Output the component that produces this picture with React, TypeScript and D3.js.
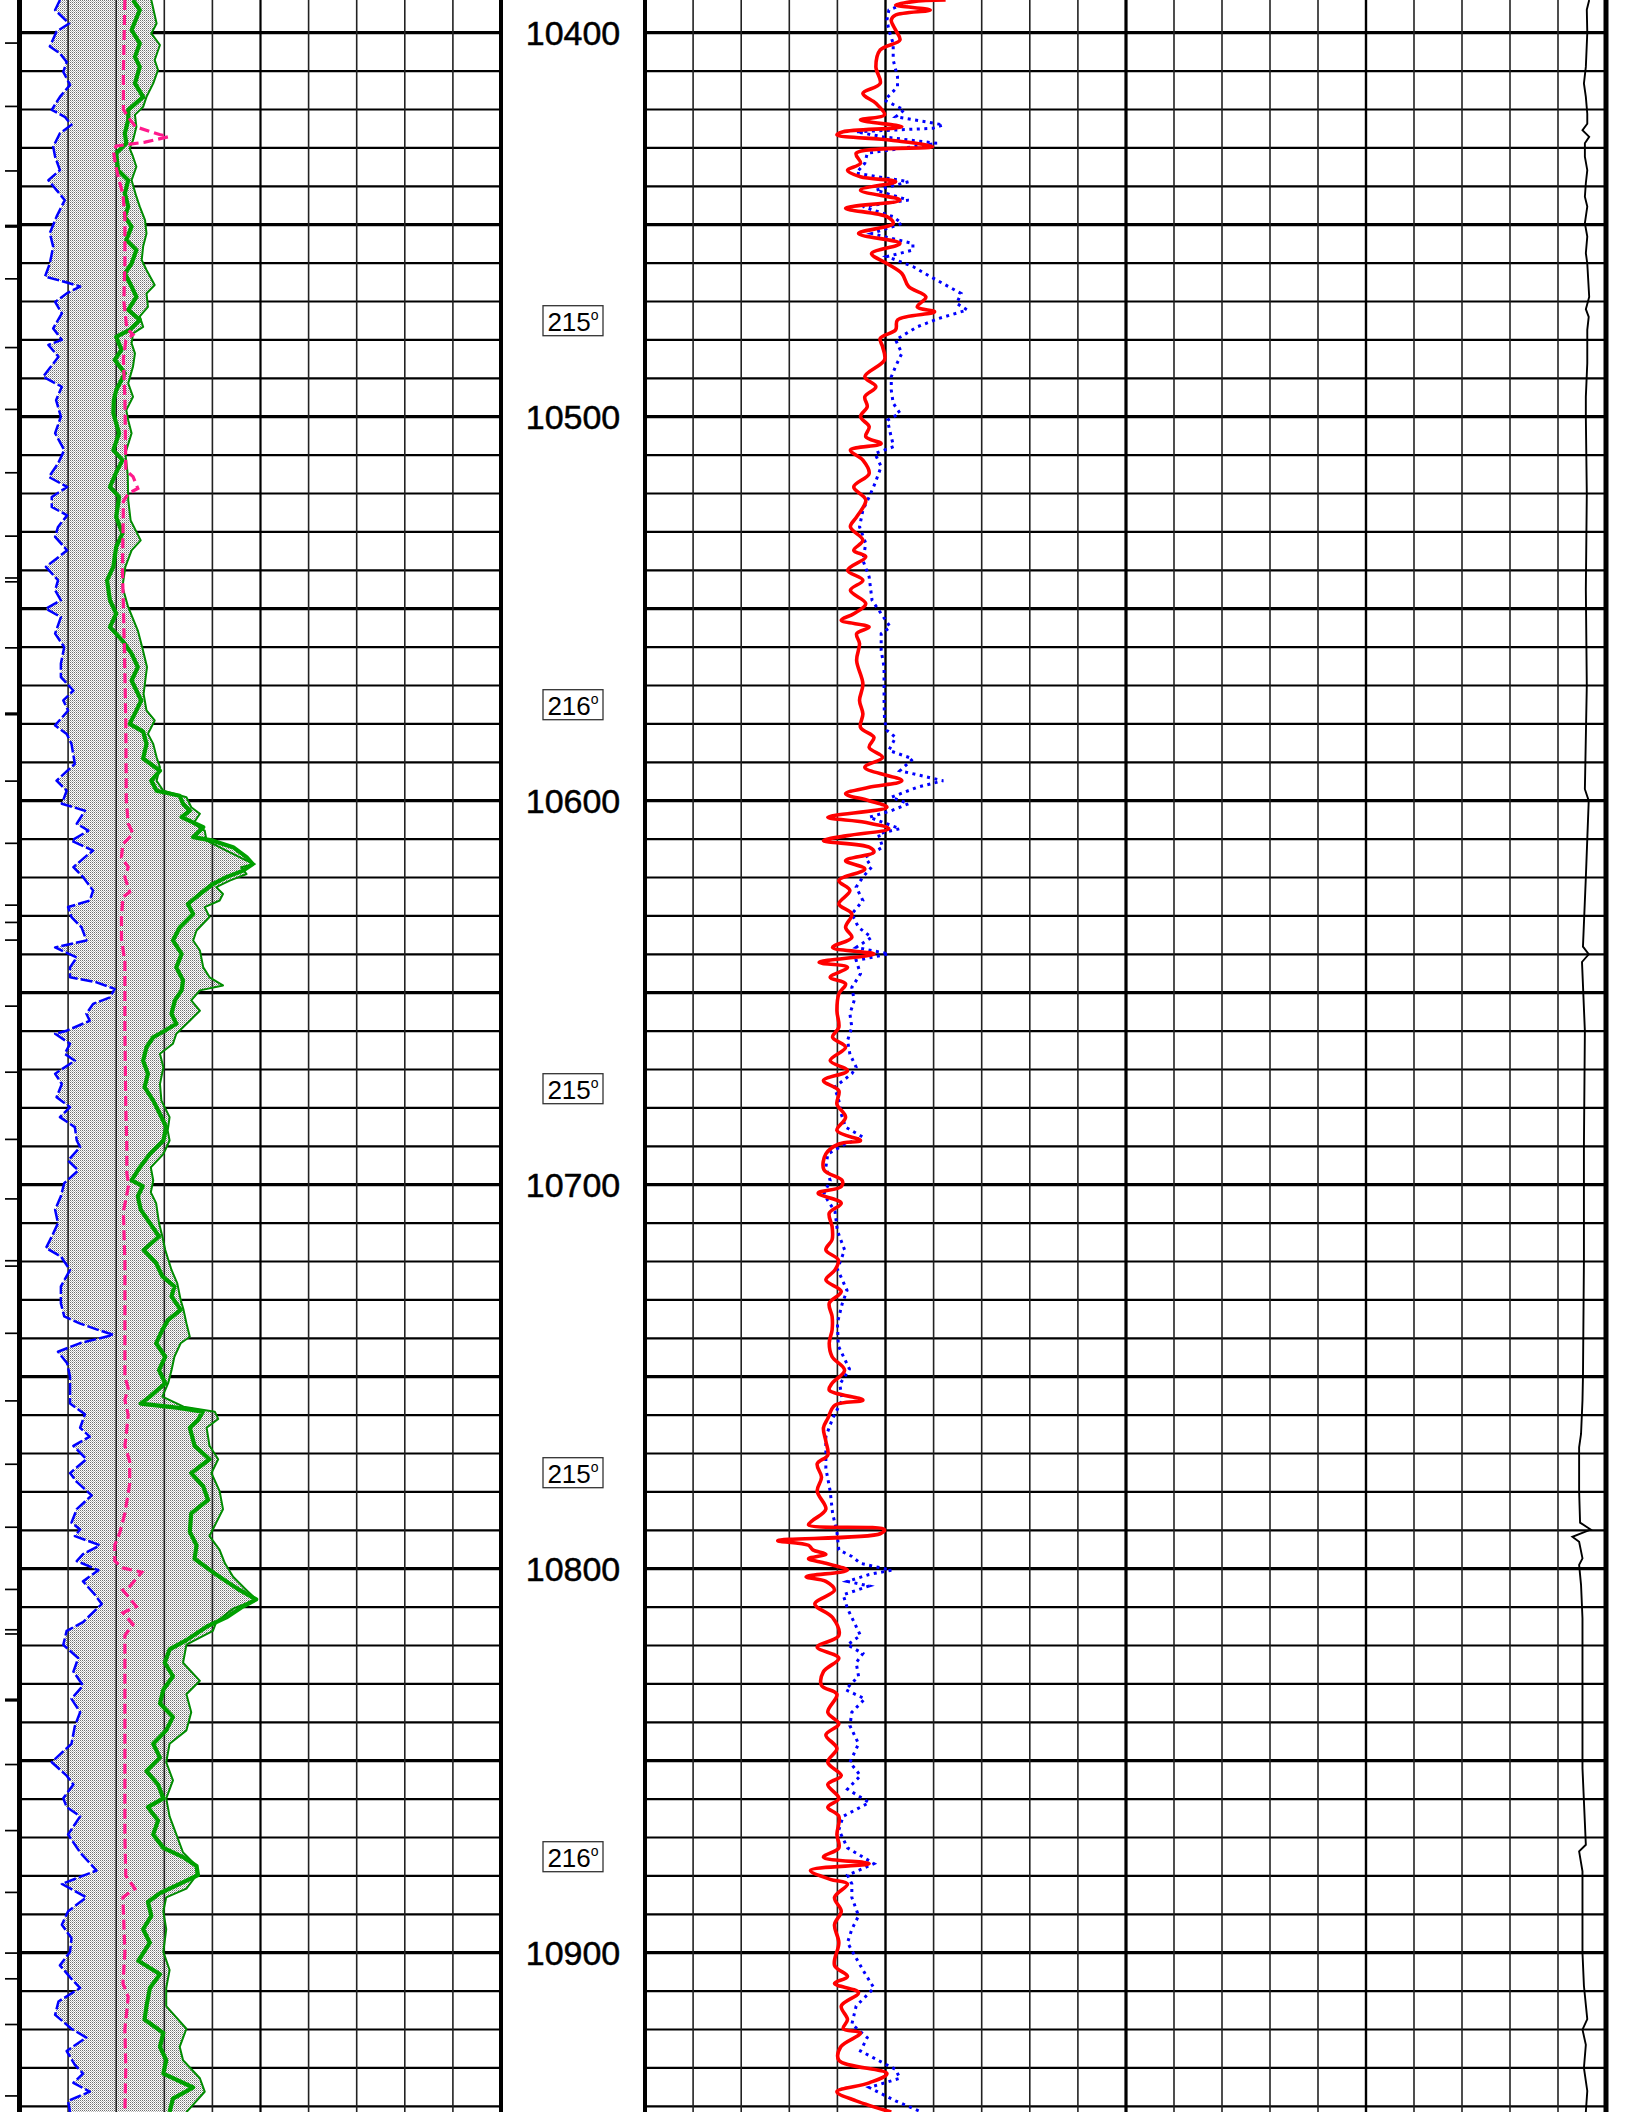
import React from 'react';
import * as d3 from 'd3';

type Pt = [number, number];

const W = 1632;
const H = 2112;

const depthLabels = [10400, 10500, 10600, 10700, 10800, 10900];
const azimuthDepths = [10475, 10575, 10675, 10775, 10875];
const azimuthValues = ['215', '216', '215', '215', '216'];
const markerDepths = [10402.7, 10419.2, 10436.0, 10450.4, 10464.1, 10482.0, 10498.1, 10514.6, 10531.1, 10542.0, 10543.0, 10560.2, 10577.4, 10594.9, 10611.1, 10627.2, 10631.7, 10636.3, 10653.5, 10670.7, 10688.2, 10703.7, 10719.8, 10721.2, 10738.7, 10756.3, 10772.8, 10789.2, 10805.4, 10815.9, 10817.0, 10834.2, 10851.0, 10868.2, 10884.3, 10900.1, 10906.8, 10918.7, 10937.3];
const heavyMarkers = [10450.4, 10577.4, 10834.2];

// Track 1 (values in chart divisions 0..10)
const blueTrack1: Pt[] = [[10391.5,0.83],[10394.1,0.73],[10397.6,1.02],[10399.7,0.76],[10403.6,0.62],[10405.4,0.83],[10407.6,0.97],[10410.2,0.9],[10413.6,1.04],[10416.7,0.83],[10420.1,0.66],[10421.9,0.93],[10424,1.07],[10426.2,0.83],[10429.7,0.69],[10432.3,0.73],[10435.8,0.83],[10438.4,0.59],[10441,0.76],[10443.6,0.93],[10447.9,0.76],[10452.2,0.62],[10455.7,0.69],[10460.1,0.62],[10463.5,0.52],[10464.8,0.9],[10466.1,1.25],[10467.9,0.97],[10470.1,0.73],[10473.1,0.87],[10477,0.69],[10480,0.87],[10481.3,0.59],[10484.4,0.8],[10489.6,0.48],[10492.2,0.87],[10495.7,0.75],[10500,0.85],[10504.3,0.73],[10508.7,0.92],[10512.2,0.79],[10515.7,0.6],[10518.3,0.98],[10520.9,0.66],[10523.5,0.66],[10525.7,0.98],[10528.7,0.79],[10531.3,0.73],[10534.8,0.98],[10539.1,0.54],[10542.6,0.79],[10545.2,0.73],[10547.8,0.85],[10550,0.54],[10552.2,0.85],[10556.5,0.73],[10560,0.92],[10564.3,0.85],[10567.8,0.85],[10571.3,1.11],[10573.9,0.9],[10576.5,1.0],[10580.4,0.73],[10582.6,0.97],[10585.2,1.07],[10590.4,1.14],[10594.8,0.76],[10597.4,0.97],[10600.8,0.87],[10602.6,1.35],[10606,1.18],[10607.8,1.42],[10610.4,1.07],[10613,1.52],[10614.7,1.35],[10617.3,1.11],[10619.9,1.31],[10623.4,1.52],[10626,1.45],[10627.7,1.0],[10630.3,1.07],[10633,1.28],[10636.4,1.38],[10638.2,0.73],[10640.8,1.18],[10643.4,1.04],[10646,1.04],[10647.3,1.59],[10649,1.97],[10651.2,1.87],[10652.9,1.52],[10655.5,1.38],[10657.3,1.45],[10659.9,0.97],[10660.7,0.73],[10663.3,1.04],[10665.9,0.93],[10667.7,1.14],[10671.1,0.73],[10673.8,0.87],[10677.2,0.76],[10679.8,1.04],[10682.4,0.83],[10685,1.14],[10688.5,1.18],[10690.2,1.25],[10693.7,1.0],[10696.3,1.21],[10699.6,0.92],[10703,0.85],[10706.5,0.73],[10710,0.79],[10713.5,0.66],[10716.5,0.54],[10718.7,0.85],[10722.2,1.04],[10726.5,0.85],[10730.9,0.85],[10734.3,0.92],[10736.1,1.24],[10737.8,1.62],[10739.1,1.94],[10741.3,1.24],[10743.5,0.79],[10746.5,0.98],[10750,1.04],[10753.5,1.04],[10757,1.04],[10759.8,1.35],[10763.3,1.25],[10765.6,1.45],[10768,1.11],[10771.5,1.38],[10775.1,1.04],[10777.4,1.18],[10780.9,1.49],[10784.5,1.18],[10788,1.07],[10789.8,1.25],[10791.5,1.14],[10793.9,1.66],[10796.2,1.31],[10798,1.18],[10800.4,1.63],[10803.3,1.31],[10806.8,1.56],[10809.2,1.7],[10813.9,1.31],[10816.2,0.97],[10819.8,0.9],[10823.3,1.21],[10826.8,1.11],[10830.4,1.31],[10833.9,1.07],[10837.4,1.25],[10841,1.14],[10845.6,1.07],[10849.2,0.76],[10850.4,0.66],[10853.9,0.97],[10856.2,1.11],[10859.8,0.9],[10862.1,0.97],[10864.5,1.25],[10869.2,1.0],[10873.9,1.25],[10878.6,1.59],[10882.1,0.87],[10885.6,1.38],[10889.2,1.0],[10892.7,0.87],[10896.2,1.07],[10899.8,1.04],[10903.3,0.83],[10906.8,1.07],[10909.2,1.25],[10912.7,0.8],[10916.2,0.73],[10919.8,1.07],[10922.1,1.38],[10925.6,0.97],[10929.2,1.14],[10931.5,1.31],[10933.9,1.11],[10936.2,1.45],[10938.6,1.0],[10941.5,1.04]];

const pinkTrack1: Pt[] = [[10391.5,2.18],[10410,2.15],[10420,2.15],[10422,2.25],[10424.5,2.4],[10426.5,2.9],[10427.1,3.08],[10428.5,2.6],[10429.5,2.0],[10430.5,1.94],[10434,1.98],[10438,2.05],[10442,2.14],[10448,2.18],[10460,2.18],[10470,2.16],[10477,2.22],[10478.6,2.35],[10480.1,2.2],[10485,2.15],[10495,2.18],[10514,2.2],[10515.6,2.35],[10518.7,2.45],[10520,2.25],[10522,2.15],[10540,2.13],[10560,2.17],[10580,2.2],[10600,2.21],[10606,2.25],[10608.6,2.35],[10611.3,2.14],[10614.7,2.11],[10617.3,2.25],[10619.9,2.18],[10623.8,2.28],[10625.1,2.14],[10630.3,2.11],[10636,2.11],[10642,2.18],[10660,2.18],[10680,2.2],[10690,2.22],[10697,2.22],[10700,2.26],[10707,2.15],[10720,2.18],[10750,2.18],[10753,2.25],[10756,2.18],[10760,2.25],[10766,2.2],[10768,2.18],[10772,2.28],[10778,2.28],[10785.6,2.18],[10790.4,2.08],[10793.9,1.97],[10798,1.97],[10799.8,2.14],[10800.9,2.53],[10805.1,2.25],[10805.6,2.14],[10809.8,2.42],[10811.5,2.14],[10814.5,2.35],[10817.4,2.18],[10840,2.18],[10870,2.18],[10880,2.2],[10882.1,2.32],[10883.3,2.39],[10885.6,2.14],[10900,2.18],[10908,2.14],[10911.5,2.25],[10920,2.18],[10930,2.2],[10941.5,2.18]];

const greenThick: Pt[] = [[10391.5,2.35],[10394.1,2.49],[10399.3,2.32],[10402.8,2.49],[10406.3,2.39],[10408.9,2.49],[10413.2,2.39],[10416.7,2.56],[10420.1,2.25],[10422.7,2.25],[10426.2,2.18],[10428.8,2.21],[10431.4,2.0],[10435.8,2.04],[10438.4,2.25],[10441.8,2.18],[10445.3,2.25],[10447.9,2.18],[10450.5,2.32],[10454,2.21],[10456.6,2.42],[10460.1,2.32],[10462.7,2.18],[10466.1,2.32],[10468.8,2.42],[10472.2,2.25],[10474.8,2.49],[10477.4,2.28],[10479.2,2.0],[10482.6,2.11],[10485.2,1.97],[10488.7,2.18],[10493.1,2.0],[10495.7,1.95],[10499.1,1.94],[10504.3,2.06],[10508.7,1.94],[10511.3,2.13],[10514.5,2.0],[10518.3,1.87],[10520.9,2.06],[10526.1,2.0],[10530.4,2.13],[10533.9,2.0],[10539.1,1.94],[10542.6,1.81],[10547.8,1.87],[10551.3,2.0],[10554.8,1.87],[10558.3,2.13],[10561.7,2.32],[10565.2,2.45],[10568.7,2.32],[10573.9,2.52],[10577,2.4],[10580,2.28],[10582,2.56],[10585.2,2.63],[10589,2.56],[10592.2,2.91],[10594.8,2.73],[10597.4,2.84],[10598.7,3.32],[10600.8,3.39],[10602.6,3.53],[10604.3,3.36],[10606.9,3.81],[10609.5,3.6],[10610.4,4.01],[10612.1,4.43],[10614.7,4.71],[10616.5,4.84],[10618.2,4.64],[10619.9,4.29],[10621.7,4.01],[10624.3,3.74],[10626.9,3.49],[10629.5,3.6],[10633,3.32],[10636.4,3.18],[10639.9,3.36],[10643.4,3.25],[10646.8,3.39],[10649.4,3.36],[10652,3.22],[10655.5,3.15],[10658.1,3.25],[10659.9,3.01],[10661.6,2.77],[10664.2,2.63],[10667.7,2.56],[10671.1,2.66],[10674.6,2.59],[10678.1,2.77],[10681.6,2.91],[10685,3.04],[10688.5,2.98],[10692,2.7],[10695.5,2.49],[10698.9,2.32],[10700.4,2.55],[10703,2.45],[10706.5,2.51],[10710,2.7],[10713.5,2.89],[10717,2.57],[10720.4,2.83],[10723.9,2.96],[10726.5,3.21],[10729.1,3.15],[10732.6,3.34],[10735.2,3.08],[10737.8,2.96],[10741.3,2.83],[10744.8,3.02],[10748.3,2.89],[10751.7,3.02],[10755.2,2.7],[10757,2.51],[10758.1,3.3],[10759.1,3.8],[10761.3,3.7],[10763.3,3.53],[10768,3.63],[10771.5,3.94],[10775.1,3.56],[10778.6,3.81],[10782.1,3.91],[10785.6,3.56],[10790.4,3.53],[10793.9,3.67],[10797.4,3.63],[10800.9,4.01],[10803.3,4.29],[10805.6,4.57],[10808,4.91],[10809.8,4.64],[10812.7,4.29],[10815.1,3.88],[10818.6,3.46],[10821,3.11],[10824.5,3.01],[10828,3.18],[10831.5,2.98],[10835.1,2.91],[10838.6,3.18],[10842.1,3.04],[10845.6,2.77],[10849.2,2.91],[10852.7,2.63],[10856.2,2.87],[10859.8,2.98],[10862.1,2.66],[10865.6,2.87],[10869.2,2.77],[10872.7,2.98],[10875.1,3.39],[10877.4,3.67],[10879.8,3.7],[10882.1,3.32],[10884.5,2.91],[10886.8,2.66],[10890.4,2.73],[10893.9,2.56],[10897.4,2.7],[10902.1,2.46],[10905.6,2.91],[10909.2,2.7],[10913.9,2.63],[10917.4,2.59],[10920.9,2.98],[10924.5,2.91],[10928,3.04],[10931.5,2.98],[10935.1,3.6],[10938,3.18],[10941.5,3.11]];

const greenThin: Pt[] = [[10391.5,2.73],[10397.6,2.84],[10400.2,2.73],[10403.2,2.91],[10407.1,2.8],[10409.7,2.87],[10413.2,2.77],[10416.7,2.63],[10419.3,2.56],[10421.4,2.39],[10424.5,2.42],[10428,2.35],[10430.1,2.28],[10432.3,2.35],[10434.9,2.42],[10438.4,2.32],[10442.7,2.42],[10445.3,2.49],[10448.8,2.6],[10452.3,2.63],[10455.7,2.56],[10459.2,2.53],[10461.8,2.63],[10465.7,2.8],[10467.9,2.63],[10471.4,2.66],[10473.9,2.49],[10476.6,2.56],[10478.3,2.35],[10480.9,2.32],[10483.5,2.39],[10486.9,2.35],[10491.3,2.25],[10494.8,2.35],[10498.3,2.21],[10500.9,2.25],[10504.3,2.32],[10509.6,2.19],[10515,2.24],[10521.7,2.25],[10527,2.3],[10532.2,2.51],[10534.8,2.32],[10539.1,2.19],[10544.3,2.13],[10549.6,2.25],[10555.7,2.45],[10560.5,2.55],[10565.2,2.64],[10572.2,2.57],[10576.5,2.63],[10579.1,2.8],[10582.6,2.66],[10585.2,2.77],[10588.7,2.84],[10591.3,2.91],[10594.8,2.84],[10597.4,2.98],[10599.1,3.46],[10601.7,3.56],[10603.4,3.74],[10606,3.6],[10607.8,3.84],[10610.4,3.88],[10613,4.29],[10615.6,4.71],[10616.5,4.88],[10617.3,4.6],[10619.1,4.71],[10620.8,4.36],[10622.5,4.08],[10624.3,4.22],[10626,4.15],[10627.7,3.84],[10630.3,3.94],[10633.8,3.67],[10636.4,3.6],[10639,3.74],[10643.4,3.81],[10646,3.94],[10648.1,4.22],[10649.4,3.74],[10652,3.56],[10654.7,3.74],[10657.3,3.53],[10660.7,3.25],[10663.3,3.18],[10665.9,2.91],[10669.4,2.98],[10673.8,2.91],[10678.1,2.94],[10682.4,3.11],[10685.9,3.07],[10688.5,3.11],[10692,2.98],[10695.5,2.72],[10698.9,2.77],[10702,2.72],[10704.8,2.83],[10710,2.89],[10713.5,2.96],[10717,3.02],[10722.2,3.15],[10725.7,3.27],[10730,3.34],[10732.6,3.4],[10736.1,3.46],[10739.6,3.53],[10741.3,3.34],[10744.8,3.21],[10748.3,3.15],[10751.7,3.08],[10755.2,2.96],[10757.8,3.4],[10759.1,4.05],[10761,4.12],[10763.3,3.88],[10768,3.94],[10771.5,4.12],[10775.1,3.98],[10779.8,4.15],[10784.5,4.22],[10788,4.08],[10791.5,3.94],[10795.1,4.15],[10798.6,4.26],[10802.1,4.43],[10805.6,4.71],[10808,4.91],[10810.4,4.43],[10813.9,4.08],[10816.2,4.01],[10819.8,3.46],[10824.5,3.39],[10829.2,3.74],[10832.7,3.46],[10837.4,3.56],[10842.1,3.46],[10845.6,3.11],[10850.4,3.04],[10855.1,3.18],[10859.8,3.04],[10864.5,3.11],[10869.2,3.25],[10873.9,3.39],[10877.4,3.67],[10879.8,3.67],[10883.3,3.46],[10885.6,3.04],[10889.2,2.98],[10893.9,3.04],[10899.8,2.98],[10904.5,3.11],[10909.2,3.04],[10913.9,3.04],[10919.8,3.46],[10924.5,3.32],[10928,3.39],[10932.7,3.74],[10936.2,3.84],[10941.5,3.46]];

// Track 3
const redTrack3: Pt[] = [[10391.5,6.25],[10391.9,5.57],[10392.8,5.21],[10394.1,5.93],[10395.4,5.21],[10396.7,5.12],[10399.3,5.21],[10401.9,5.3],[10404.5,4.89],[10408.9,4.8],[10413.2,4.89],[10415.8,4.53],[10418.4,4.8],[10421.4,4.98],[10422.7,4.48],[10424.5,5.34],[10425.8,4.12],[10426.6,3.99],[10428,5.12],[10429.7,5.98],[10431.4,4.39],[10434,4.48],[10435.8,4.21],[10437.5,4.48],[10438.8,5.21],[10441,4.48],[10443.6,5.3],[10445.7,4.17],[10447.9,5.03],[10449.7,5.16],[10452.3,4.44],[10454.9,5.3],[10457.5,4.71],[10460.1,5.03],[10462.7,5.34],[10466.1,5.48],[10468.8,5.84],[10471.4,5.66],[10472.7,6.02],[10474.8,5.25],[10477.4,5.21],[10479.6,4.89],[10481.8,4.94],[10485.2,4.98],[10489.6,4.57],[10492.2,4.8],[10494.8,4.57],[10497.4,4.62],[10500,4.48],[10502.6,4.66],[10505.2,4.59],[10507,4.91],[10508.7,4.27],[10511.3,4.53],[10514.8,4.66],[10518.3,4.34],[10521.7,4.59],[10526.1,4.4],[10528.7,4.27],[10532.2,4.53],[10534.8,4.34],[10536.5,4.59],[10540,4.21],[10542.6,4.53],[10545.2,4.27],[10548.7,4.59],[10551.3,4.34],[10553,4.08],[10554.8,4.66],[10556.5,4.4],[10559.1,4.46],[10563.5,4.4],[10569.6,4.53],[10573.9,4.46],[10577.4,4.53],[10580.9,4.48],[10583.5,4.76],[10586.1,4.66],[10588.7,4.94],[10591.3,4.57],[10594.8,5.34],[10596.5,4.66],[10598.2,4.17],[10600,4.66],[10601.7,5.03],[10604.3,3.8],[10605.6,4.57],[10607.3,5.07],[10609.1,4.21],[10610.4,3.71],[10612.1,4.66],[10613.4,4.76],[10615.6,4.17],[10617.8,4.57],[10620.8,4.03],[10623.4,4.26],[10626.9,4.03],[10629.5,4.3],[10633,4.17],[10635.6,4.3],[10638.2,3.9],[10639.9,4.76],[10642.1,3.62],[10643.4,4.21],[10646,3.85],[10647.7,4.17],[10650.3,4.03],[10654.7,3.99],[10659,4.03],[10661.6,3.9],[10664.2,4.17],[10667.7,3.85],[10670.3,4.21],[10672.9,3.71],[10675.5,4.03],[10679,3.99],[10682.4,4.17],[10685.9,3.99],[10688.5,4.48],[10689.4,4.03],[10692,3.76],[10696.1,3.72],[10698.9,4.1],[10700.5,4.08],[10702.2,3.6],[10704.8,4.08],[10707.4,3.83],[10710.9,3.89],[10714.3,3.89],[10717,3.76],[10719.6,4.02],[10722.2,3.95],[10724.8,3.76],[10727.8,4.08],[10730.9,3.83],[10734.3,3.89],[10737.8,3.89],[10741.3,3.83],[10744.8,3.89],[10748.3,4.15],[10751.7,3.89],[10753.5,3.83],[10756.1,4.53],[10757.4,3.95],[10760.9,3.8],[10763.3,3.71],[10766.8,3.76],[10770.4,3.8],[10772.7,3.58],[10776.2,3.67],[10779.8,3.58],[10784.5,3.76],[10787.4,3.49],[10788.6,3.4],[10789.8,4.98],[10790.9,4.89],[10792.7,2.76],[10793.9,3.4],[10795.1,3.49],[10796.2,3.76],[10797.4,3.4],[10798.6,3.76],[10800.4,4.21],[10802.1,3.35],[10803.3,3.76],[10805.6,3.94],[10809.2,3.53],[10812.7,3.9],[10817.4,4.03],[10820.4,3.58],[10823.3,4.03],[10826.8,3.71],[10830.4,3.67],[10832.7,3.99],[10837.4,3.8],[10840.4,4.03],[10843.3,3.76],[10846.8,3.99],[10850.4,3.8],[10853.9,4.08],[10856.2,3.8],[10859.8,4.03],[10862.1,3.8],[10864.5,4.03],[10869.2,3.99],[10872.7,4.03],[10875.1,3.71],[10876.8,4.66],[10878.6,3.44],[10880.9,3.85],[10882.1,4.21],[10885.6,3.94],[10889.2,4.08],[10892.7,3.94],[10897.4,4.03],[10903.3,3.94],[10906.2,4.21],[10908,3.94],[10910.4,4.44],[10913.9,4.08],[10917.4,4.21],[10919.8,4.12],[10920.9,4.48],[10924.5,4.07],[10928,4.03],[10931.5,5.03],[10933.9,4.66],[10936.2,3.99],[10938.6,4.39],[10941.5,5.12]];

const blueDotTrack3: Pt[] = [[10391.5,5.66],[10392.3,5.43],[10394.1,5.07],[10396.7,5.03],[10399.3,5.07],[10402.8,5.16],[10407.1,5.16],[10411.5,5.25],[10414.1,5.25],[10417.6,4.98],[10420.1,5.39],[10421.9,5.21],[10424,6.2],[10424.9,5.98],[10425.8,4.39],[10427.1,4.94],[10428.8,6.07],[10431.4,4.62],[10434,4.57],[10436.6,4.39],[10438.8,5.48],[10441,4.8],[10443.6,5.48],[10445.3,4.53],[10447.9,5.16],[10449.7,5.34],[10452.3,4.71],[10454.9,5.57],[10456.6,5.57],[10458.3,5.03],[10460.9,5.57],[10463.5,5.93],[10467.9,6.57],[10470.5,6.48],[10472.2,6.7],[10474.4,6.11],[10476.6,5.66],[10480,5.21],[10483.5,5.34],[10486.9,5.21],[10489.6,5.12],[10493.1,5.12],[10496.5,5.16],[10499.1,5.3],[10500.9,5.04],[10504.3,5.1],[10507.8,5.17],[10509.6,4.78],[10513,4.91],[10517.4,4.78],[10520.9,4.66],[10524.3,4.53],[10528.7,4.46],[10533,4.59],[10537.4,4.53],[10541.7,4.66],[10547.8,4.72],[10551.3,4.91],[10554.8,5.1],[10556.5,4.91],[10560.9,4.91],[10565.2,4.97],[10573.9,4.97],[10579.1,4.98],[10581.7,5.03],[10583.5,5.21],[10586.9,5.07],[10589.1,5.57],[10592.2,5.3],[10594.8,6.2],[10596.5,5.66],[10599.1,5.12],[10600.8,5.48],[10602.6,5.12],[10604.3,4.66],[10607.3,5.3],[10608.6,4.85],[10612.1,4.94],[10614.7,4.58],[10617.3,4.71],[10619.9,4.53],[10622.5,4.39],[10626,4.53],[10629.5,4.3],[10633,4.44],[10635.6,4.71],[10638.2,4.39],[10639.9,5.07],[10641.6,4.39],[10645.1,4.48],[10648.6,4.3],[10652,4.35],[10655.5,4.26],[10659,4.3],[10662.5,4.21],[10666,4.26],[10669.4,4.39],[10671.1,4.3],[10674.6,3.94],[10678.1,4.03],[10681.6,4.08],[10685,4.17],[10687.6,4.53],[10689.4,4.17],[10692,3.8],[10695.5,3.76],[10698.9,3.85],[10702.4,3.72],[10704.1,3.8],[10707,3.95],[10712,4.0],[10717,4.15],[10722,4.0],[10727.5,4.2],[10731,4.1],[10736,4.0],[10742,4.02],[10748,4.25],[10752,4.05],[10756,4.1],[10760.9,3.9],[10765.6,3.76],[10773.9,3.76],[10779.8,3.85],[10785.6,3.9],[10790.4,3.99],[10795.1,4.03],[10796.8,4.3],[10798.6,4.48],[10800.4,5.12],[10801.5,4.66],[10803.3,4.21],[10804.5,4.66],[10806.8,4.12],[10810.4,4.21],[10812.7,4.3],[10817.4,4.48],[10819.8,4.21],[10822.1,4.53],[10824.5,4.39],[10828,4.44],[10831.5,4.17],[10833.9,4.57],[10837.4,4.3],[10840.9,4.26],[10845.6,4.44],[10850.4,4.26],[10853.9,4.48],[10857.4,4.21],[10860.9,4.66],[10864.5,4.12],[10868,4.03],[10872.7,4.21],[10876.8,4.76],[10879.8,4.21],[10882.1,4.3],[10885.6,4.3],[10890.4,4.44],[10893.9,4.3],[10897.4,4.21],[10904.5,4.53],[10909.2,4.76],[10913.9,4.39],[10918.6,4.3],[10922.1,4.62],[10925.6,4.48],[10930.4,5.21],[10932.7,5.3],[10935.1,4.66],[10938.6,5.21],[10941.5,5.75]];

// Track 4
const blackTrack4: Pt[] = [[10391.5,9.65],[10394,9.6],[10400,9.61],[10408.9,9.58],[10413.2,9.54],[10416.7,9.58],[10421.1,9.61],[10423.7,9.61],[10425.4,9.51],[10427.1,9.65],[10428.8,9.56],[10432.3,9.56],[10435.8,9.61],[10439.2,9.58],[10442.7,9.56],[10445.3,9.61],[10449.6,9.56],[10453.1,9.61],[10457.4,9.58],[10460.1,9.61],[10468.8,9.65],[10472,9.58],[10474,9.64],[10477.4,9.61],[10486.1,9.61],[10494.8,9.58],[10500,9.58],[10520,9.6],[10545,9.58],[10570,9.6],[10597,9.56],[10600,9.64],[10620,9.58],[10638,9.52],[10640,9.64],[10642,9.5],[10660,9.56],[10690,9.54],[10720,9.54],[10750,9.52],[10756.2,9.51],[10764.9,9.48],[10768.4,9.44],[10779.7,9.44],[10788,9.46],[10789.8,9.68],[10791.7,9.3],[10793,9.44],[10797.3,9.51],[10799,9.44],[10804.2,9.48],[10812.9,9.51],[10825.9,9.51],[10852,9.51],[10871.9,9.58],[10873.6,9.44],[10878.8,9.51],[10900,9.51],[10908.6,9.54],[10917.3,9.61],[10920,9.51],[10924,9.58],[10930,9.54],[10936,9.61],[10941.5,9.58]];

export default function App() {
  const y = d3.scaleLinear().domain([10400, 10500]).range([32.7, 416.7]);
  const x1 = d3.scaleLinear().domain([0, 10]).range([20, 501]);
  const x3 = d3.scaleLinear().domain([0, 10]).range([645, 1126]);
  const x4 = d3.scaleLinear().domain([0, 10]).range([1126, 1606]);

  const gridDepths = d3.range(10400, 10945, 10);
  const divs = d3.range(1, 10);

  const mk = (xs: d3.ScaleLinear<number, number>, curve: d3.CurveFactory = d3.curveLinear) =>
    d3.line<Pt>().x((p) => xs(p[1])).y((p) => y(p[0])).curve(curve);

  const line1 = mk(x1);
  const line3 = mk(x3);
  const line3s = mk(x3, d3.curveCatmullRom.alpha(0.5));
  const line4 = mk(x4);

  const polyLine = d3.line<[number, number]>();
  const areaPath = (left: Pt[], right: Pt[]) => {
    const pts: [number, number][] = left
      .map((p) => [x1(p[1]), y(p[0])] as [number, number])
      .concat(right.slice().reverse().map((p) => [x1(p[1]), y(p[0])] as [number, number]));
    return (polyLine(pts) || '') + 'Z';
  };

  const font = '"Liberation Sans", Arial, Helvetica, sans-serif';

  return (
    <svg
      width={W}
      height={H}
      viewBox={`0 0 ${W} ${H}`}
      style={{ position: 'absolute', left: 0, top: 0, display: 'block', background: '#fff' }}
    >
      <defs>
        <pattern id="stipple" width="2" height="2" patternUnits="userSpaceOnUse">
          <rect width="2" height="2" fill="#ffffff" />
          <rect x="0" y="0" width="1" height="1" fill="#707070" />
          <rect x="1" y="1" width="1" height="1" fill="#b8b8b8" />
        </pattern>
      </defs>
      <rect x={0} y={0} width={W} height={H} fill="#fff" />

      {/* horizontal grid */}
      {gridDepths.map((d) => {
        const heavy = d % 50 === 0;
        return (
          <g key={'h' + d}>
            <line x1={x1(0)} x2={x1(10)} y1={y(d)} y2={y(d)} stroke="#000" strokeWidth={heavy ? 3.2 : 2.2} />
            <line x1={x3(0)} x2={x4(10)} y1={y(d)} y2={y(d)} stroke="#000" strokeWidth={heavy ? 3.2 : 2.2} />
          </g>
        );
      })}

      {/* track 1 fill */}
      <path d={areaPath(blueTrack1, greenThin)} fill="url(#stipple)" stroke="none" />
      <path d={areaPath(blueTrack1, greenThick)} fill="url(#stipple)" stroke="none" />

      {/* vertical grid */}
      {divs.map((k) => (
        <g key={'v' + k}>
          <line x1={x1(k)} x2={x1(k)} y1={0} y2={H} stroke={k === 5 ? '#000' : '#222'} strokeWidth={k === 5 ? 2.2 : 1.6} />
          <line x1={x3(k)} x2={x3(k)} y1={0} y2={H} stroke={k === 5 ? '#000' : '#222'} strokeWidth={k === 5 ? 2.4 : 1.6} />
          <line x1={x4(k)} x2={x4(k)} y1={0} y2={H} stroke={k === 5 ? '#000' : '#222'} strokeWidth={k === 5 ? 2.4 : 1.6} />
        </g>
      ))}

      {/* track 1 curves */}
      <path d={line1(blueTrack1) || ''} fill="none" stroke="#0000ff" strokeWidth={2.5} strokeDasharray="12,3" strokeLinejoin="round" />
      <path d={line1(greenThin) || ''} fill="none" stroke="#008c00" strokeWidth={2} strokeLinejoin="round" />
      <path d={line1(greenThick) || ''} fill="none" stroke="#00a000" strokeWidth={4.2} strokeLinejoin="round" />
      <path d={line1(pinkTrack1) || ''} fill="none" stroke="#ff1a8c" strokeWidth={3.2} strokeDasharray="10,5" />

      {/* track 3 curves */}
      <path d={line3(blueDotTrack3) || ''} fill="none" stroke="#0000ff" strokeWidth={3} strokeDasharray="3,4.5" />
      <path d={line3s(redTrack3) || ''} fill="none" stroke="#ff0000" strokeWidth={3.6} strokeLinejoin="round" />

      {/* track 4 curve */}
      <path d={line4(blackTrack4) || ''} fill="none" stroke="#000" strokeWidth={1.9} />

      {/* borders */}
      <line x1={19.5} x2={19.5} y1={0} y2={H} stroke="#000" strokeWidth={5} />
      <line x1={501} x2={501} y1={0} y2={H} stroke="#000" strokeWidth={4} />
      <line x1={645} x2={645} y1={0} y2={H} stroke="#000" strokeWidth={4} />
      <line x1={1126} x2={1126} y1={0} y2={H} stroke="#000" strokeWidth={3.2} />
      <line x1={1606} x2={1606} y1={0} y2={H} stroke="#000" strokeWidth={5} />

      {/* left marker ticks */}
      {markerDepths.map((d, i) => (
        <line
          key={'m' + i}
          x1={5}
          x2={19}
          y1={y(d)}
          y2={y(d)}
          stroke="#000"
          strokeWidth={heavyMarkers.includes(d) ? 3.2 : 1.7}
        />
      ))}

      {/* depth labels */}
      {depthLabels.map((d) => (
        <text
          key={'t' + d}
          x={573}
          y={y(d)}
          fontFamily={font}
          fontSize={34}
          textAnchor="middle"
          dominantBaseline="central"
          fill="#000"
          stroke="#000"
          strokeWidth={0.5}
        >
          {d}
        </text>
      ))}

      {/* azimuth boxes */}
      {azimuthDepths.map((d, i) => (
        <g key={'a' + d}>
          <rect x={543} y={y(d) - 15} width={60} height={30} fill="#fff" stroke="#333" strokeWidth={1.3} />
          <text
            x={573}
            y={y(d) + 1}
            fontFamily={font}
            fontSize={26}
            textAnchor="middle"
            dominantBaseline="central"
            fill="#000"
          >
            {azimuthValues[i]}
            <tspan fontSize={14} dy={-7}>o</tspan>
          </text>
        </g>
      ))}
    </svg>
  );
}
